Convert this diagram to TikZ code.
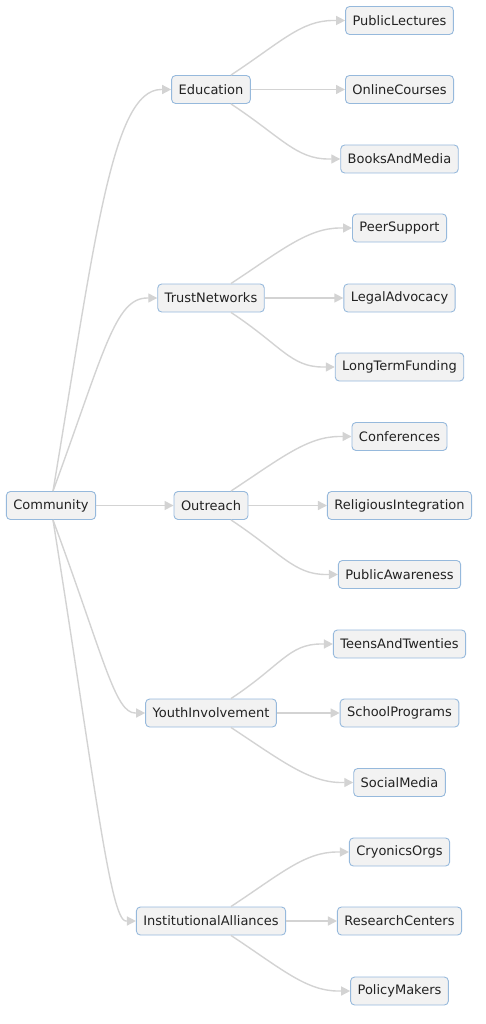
\documentclass[tikz,border=0pt]{standalone}
\usepackage{fontspec}
\setmainfont{DejaVu Sans}
\usetikzlibrary{arrows.meta}
\definecolor{nodefill}{RGB}{242,242,242}
\definecolor{nodeline}{RGB}{150,185,220}
\definecolor{edgecol}{RGB}{211,211,211}
\definecolor{txt}{RGB}{34,34,34}
\begin{document}
\begin{tikzpicture}[x=1pt,y=-1pt,
  box/.style={draw=nodeline,fill=nodefill,line width=0.9pt,rounded corners=4pt,
    minimum height=28pt,inner xsep=7pt,inner ysep=0pt,text=txt,
    font=\fontsize{13pt}{15pt}\selectfont},
  edge/.style={draw=edgecol,line width=1.4pt,-{Triangle[length=9pt,width=9pt,fill=edgecol]}}]
\useasboundingbox (0,0) rectangle (485,1024);
% root
\node[box] (com) at (51,505.5) {Community};
% level 1
\node[box] (edu) at (211,89.5) {Education};
\node[box] (tn)  at (211,298) {TrustNetworks};
\node[box] (out) at (211,505.5) {Outreach};
\node[box] (yi)  at (211,713) {YouthInvolvement};
\node[box] (ia)  at (211,921) {InstitutionalAlliances};
% level 2
\node[box] (pl)  at (399.5,20.5) {PublicLectures};
\node[box] (oc)  at (399.5,89.5) {OnlineCourses};
\node[box] (bm)  at (399.5,159) {BooksAndMedia};
\node[box] (ps)  at (399.5,228) {PeerSupport};
\node[box] (la)  at (399.5,298) {LegalAdvocacy};
\node[box] (lf)  at (399.5,367) {LongTermFunding};
\node[box] (cf)  at (399.5,436.5) {Conferences};
\node[box] (ri)  at (399.5,505.5) {ReligiousIntegration};
\node[box] (pa)  at (399.5,574.5) {PublicAwareness};
\node[box] (tt)  at (399.5,644) {TeensAndTwenties};
\node[box] (sp)  at (399.5,713) {SchoolPrograms};
\node[box] (sm)  at (399.5,782.5) {SocialMedia};
\node[box] (co)  at (399.5,852) {CryonicsOrgs};
\node[box] (rc)  at (399.5,921) {ResearchCenters};
\node[box] (pm)  at (399.5,991) {PolicyMakers};
% root edges
\draw[edge] ([xshift=2pt]com.north) .. controls (95,240) and (112,89.5) .. ([xshift=-10pt]edu.west) -- (edu.west);
\draw[edge] ([xshift=2pt]com.north) .. controls (104,352) and (115,298) .. ([xshift=-10pt]tn.west) -- (tn.west);
\draw[edge] (com.east) -- (out.west);
\draw[edge] ([xshift=2pt]com.south) .. controls (104,658) and (115,713) .. ([xshift=-10pt]yi.west) -- (yi.west);
\draw[edge] ([xshift=2pt]com.south) .. controls (93,770) and (110,921) .. ([xshift=-10pt]ia.west) -- (ia.west);
% level-1 edges
\foreach \p/\u/\m/\d in {edu/pl/oc/bm, tn/ps/la/lf, out/cf/ri/pa, yi/tt/sp/sm, ia/co/rc/pm}{
  \draw[edge] ([xshift=20pt]\p.north) .. controls +(50,-33) and +(-32,0) .. ([xshift=-12pt]\u.west) -- (\u.west);
  \draw[edge] (\p.east) -- (\m.west);
  \draw[edge] ([xshift=20pt]\p.south) .. controls +(50,33) and +(-32,0) .. ([xshift=-12pt]\d.west) -- (\d.west);
}
\end{tikzpicture}
\end{document}
